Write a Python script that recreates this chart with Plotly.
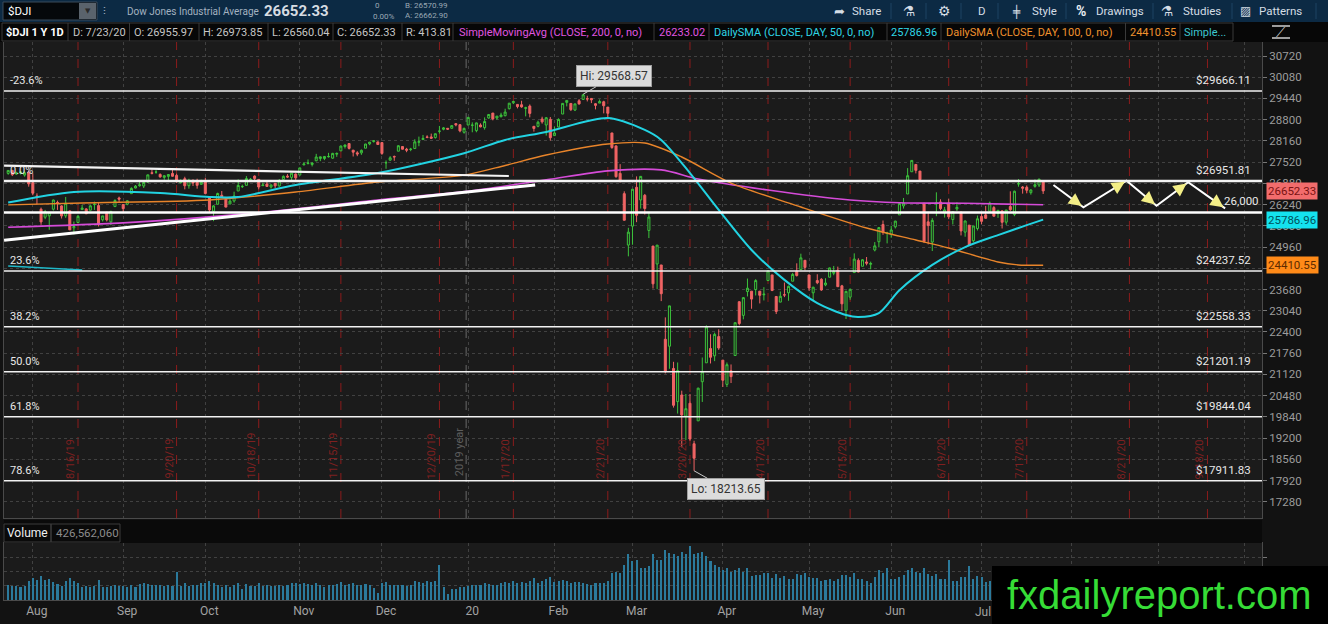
import plotly.graph_objects as go
import pandas as pd

W, H = 1328, 624
FONT = "Roboto, 'Open Sans', 'DejaVu Sans', sans-serif"
SYM = "'DejaVu Sans', sans-serif"

# ---------------- calendar (trading sessions) ----------------
holidays = ["2019-09-02", "2019-11-28", "2019-12-25", "2020-01-01", "2020-01-20",
            "2020-02-17", "2020-04-10", "2020-05-25", "2020-07-03", "2020-09-07"]
sessions = [d for d in pd.bdate_range("2019-07-24", "2020-10-02")
            if d.strftime("%Y-%m-%d") not in holidays]


def sidx(day):
    return sessions.index(pd.Timestamp(day))


# ---------------- daily OHLC ($DJI, 7/24/19 - 7/23/20) ----------------
opens = [
    27180, 27270, 27160, 27190, 27130, 27210,
    26900, 26500, 26100, 25860, 25900, 26100, 26300, 26200, 25900, 26050, 25540, 25700, 26090, 26110, 26070, 26240, 26210, 25780, 26010, 25720, 26180, 26440,
    26240, 26250, 26570, 26740, 26810, 26800, 26920, 27200, 27220, 27150, 27060, 27090, 27180, 27120, 26900, 27020, 26810, 26970, 26920, 26850,
    26960, 26480, 26040, 26250, 26520, 26400, 26260, 26350, 26650, 26780, 26820, 26990, 27100, 27000, 26810, 26860, 26770, 26880, 26800, 27000, 27100, 27060, 27160,
    27130, 27440, 27480, 27450, 27560, 27630, 27630, 27680, 27640, 27760, 27860, 27990, 28080, 27880, 27800, 27800, 27940, 28070, 28140, 28130,
    28110, 27500, 27580, 27690, 27850, 27990, 27910, 27900, 27930, 28120, 28200, 28280, 28280, 28260, 28450, 28510, 28540, 28540, 28680, 28650, 28420,
    28640, 28630, 28470, 28640, 28560, 28850, 29000, 28850, 28890, 28920, 29130, 29310, 29260, 29250, 29140, 29210, 28600, 28600, 28820, 28640, 28810,
    28320, 28580, 28970, 29320, 29290, 29090, 29370, 29410, 29430, 29440, 29280, 29300, 29340, 29180, 28400, 28010, 27180, 26570, 25020,
    25590, 26760, 26380, 26520, 25460, 24990, 24450, 24420, 22180, 21970, 21300, 20300, 20500, 19860, 20250, 19030, 19720, 20900, 21470, 21900, 21680, 22260,
    21550, 20820, 21230, 21690, 23310, 22900, 23620, 23630, 23680, 23630, 23520, 23950, 24120, 23470, 23300, 23520, 23580, 23930, 24230, 24280, 24560,
    24120, 23580, 23950, 23990, 23820, 24050, 24170, 24260, 23790, 23050, 23450, 24190, 24560, 24380, 24510, 24440, 24870, 25120, 25640, 25370,
    25340, 25570, 25930, 26200, 26560, 27230, 27450, 27250, 26280, 25720, 25110, 26260, 26320, 25990, 26290, 25790, 26110, 26000, 25410, 25620, 25150, 25520,
    25880, 25930, 26040, 26150, 25970, 26050, 25710, 26180, 25940, 26860, 26770, 26760, 26600, 26790, 26830, 26955.97,
]
highs = [
    27275, 27285, 27230, 27245, 27240, 27270,
    27180, 26580, 26150, 26080, 26010, 26390, 26360, 26220, 26470, 26060, 25730, 25930, 26230, 26130, 26230, 26330, 26310, 25900, 26020, 26050, 26400, 26480,
    26250, 26370, 26760, 26830, 26920, 26920, 27140, 27300, 27280, 27180, 27120, 27150, 27300, 27170, 27000, 27080, 27020, 27000, 27020, 26990,
    27050, 26490, 26220, 26600, 26650, 26440, 26400, 26630, 27000, 26840, 27100, 27040, 27120, 27000, 26900, 26950, 26840, 26890, 27010, 27120, 27160, 27190, 27180,
    27350, 27520, 27600, 27510, 27770, 27690, 27700, 27800, 27800, 27810, 28020, 28050, 28090, 27890, 27850, 27900, 28070, 28130, 28170, 28140,
    28110, 27570, 27700, 27720, 28030, 28000, 27950, 27950, 28210, 28290, 28340, 28330, 28380, 28380, 28610, 28580, 28540, 28630, 28700, 28650, 28560,
    28870, 28720, 28710, 28690, 28870, 28960, 29000, 28910, 29010, 29130, 29300, 29370, 29270, 29370, 29190, 29260, 28600, 28770, 28890, 28880, 28880,
    28590, 28840, 29300, 29380, 29290, 29280, 29420, 29568.57, 29520, 29450, 29300, 29410, 29370, 29180, 28400, 28020, 27460, 26640, 25540,
    26710, 27090, 27100, 26560, 25990, 24990, 25020, 24420, 22840, 23190, 21500, 21480, 20630, 20530, 20530, 19120, 20720, 21630, 22600, 22330, 22380, 22480,
    21550, 21480, 21420, 22680, 23330, 23450, 24010, 23630, 23990, 23630, 23750, 24260, 24120, 23470, 23620, 23890, 23800, 24180, 24470, 24760, 24560,
    24120, 23760, 24140, 24020, 24020, 24340, 24390, 24370, 23820, 23640, 23710, 24770, 24620, 24600, 24660, 24520, 25110, 25550, 25760, 25420,
    25600, 25750, 26300, 26440, 27340, 27580, 27450, 27250, 26280, 26020, 25830, 26610, 26400, 26170, 26420, 26040, 26310, 26040, 25760, 25620, 25600, 25910,
    25990, 26200, 26330, 26200, 26080, 26070, 26080, 26640, 26660, 27010, 26800, 26810, 26700, 27000, 27020, 26973.85,
]
lows = [
    27140, 27100, 27140, 27150, 27080, 26780,
    26520, 26250, 25630, 25800, 25480, 26060, 26080, 25820, 25840, 25470, 25340, 25690, 26080, 25960, 26070, 26080, 25580, 25730, 25730, 25620, 26180, 26290,
    25980, 26220, 26570, 26730, 26780, 26740, 26900, 27150, 27170, 27050, 26990, 26950, 27080, 26900, 26880, 26700, 26720, 26800, 26720, 26850,
    26560, 25990, 25740, 26250, 26440, 26160, 26250, 26300, 26650, 26740, 26820, 26940, 26950, 26700, 26800, 26780, 26720, 26730, 26780, 27000, 27040, 26980, 26950,
    27130, 27420, 27450, 27390, 27550, 27550, 27580, 27660, 27620, 27680, 27860, 27930, 27900, 27690, 27700, 27740, 27940, 28030, 28110, 28040,
    27740, 27320, 27560, 27560, 27850, 27900, 27820, 27850, 27920, 28000, 28190, 28240, 28230, 28230, 28380, 28480, 28490, 28530, 28600, 28420, 28380,
    28630, 28420, 28420, 28570, 28500, 28830, 28780, 28800, 28870, 28900, 29110, 29270, 29140, 29160, 28900, 28870, 28440, 28570, 28680, 28320, 28170,
    28320, 28580, 28970, 29200, 29060, 29060, 29250, 29400, 29350, 29300, 29110, 29300, 28990, 28870, 27920, 27050, 26910, 25760, 24680,
    25030, 25710, 26120, 25940, 25230, 23710, 23690, 23330, 21150, 21290, 20120, 19940, 18920, 19140, 19120, 18213.65, 19720, 20290, 21470, 21450, 21520, 21860,
    20740, 20740, 20860, 21690, 22600, 22780, 23470, 23100, 23500, 23260, 23350, 23940, 23630, 22940, 23300, 23450, 23340, 23930, 24070, 24280, 24260,
    23640, 23360, 23840, 23640, 23780, 24050, 24110, 23760, 23030, 22790, 23370, 24190, 24200, 24380, 24410, 24290, 24830, 24950, 25330, 25070,
    25240, 25520, 25930, 26120, 26560, 27230, 27180, 26940, 25080, 25040, 24840, 25890, 26070, 25850, 25800, 25640, 26050, 25310, 25270, 24990, 25100, 25460,
    25650, 25810, 26040, 25890, 25840, 25520, 25630, 26050, 25890, 26780, 26570, 26590, 26540, 26750, 26770, 26560.04,
]
closes = [
    27270, 27141, 27192, 27221, 27198, 26864,
    26583, 26485, 25718, 26030, 26007, 26378, 26287, 25898, 26280, 25479, 25579, 25886, 26136, 25962, 26203, 26252, 25629, 25899, 25778, 26036, 26362, 26403,
    26118, 26355, 26728, 26797, 26836, 26909, 27137, 27182, 27220, 27077, 27111, 27147, 27095, 26935, 26950, 26808, 26971, 26891, 26820, 26917,
    26573, 26079, 26201, 26574, 26478, 26164, 26346, 26497, 26817, 26787, 27025, 27002, 27026, 26770, 26828, 26788, 26834, 26806, 26958, 27091, 27071, 27187, 27046,
    27347, 27462, 27493, 27493, 27675, 27681, 27691, 27691, 27784, 27782, 28005, 28036, 27934, 27821, 27766, 27876, 28066, 28122, 28164, 28051,
    27783, 27503, 27650, 27678, 28015, 27910, 27882, 27911, 28132, 28135, 28236, 28267, 28239, 28377, 28455, 28552, 28515, 28621, 28645, 28462, 28538,
    28869, 28635, 28703, 28584, 28745, 28957, 28824, 28907, 28940, 29030, 29298, 29348, 29196, 29186, 29160, 28990, 28536, 28723, 28734, 28859, 28256,
    28400, 28808, 29291, 29380, 29103, 29277, 29276, 29551, 29423, 29398, 29232, 29348, 29220, 28992, 27961, 27081, 26958, 25767, 25409,
    26703, 25917, 27091, 26121, 25865, 23851, 25018, 23553, 21201, 23186, 20189, 21237, 19899, 20087, 19174, 18592, 20705, 21201, 22552, 21637, 22327, 21917,
    20944, 21413, 21053, 22680, 22654, 23434, 23719, 23391, 23950, 23504, 23538, 24242, 23650, 23019, 23476, 23515, 23775, 24134, 24102, 24634, 24346,
    23724, 23750, 23883, 23665, 23876, 24331, 24222, 23765, 23248, 23625, 23685, 24597, 24207, 24576, 24474, 24465, 24995, 25548, 25401, 25383,
    25475, 25743, 26270, 26282, 27111, 27572, 27272, 26990, 25128, 25606, 25763, 26290, 26120, 26080, 25871, 26025, 26156, 25446, 25746, 25016, 25596, 25813,
    25735, 25827, 26287, 25890, 26067, 25706, 26075, 26086, 26643, 26870, 26735, 26672, 26681, 26840, 27006, 26652.33,
]
volumes_m = [
    260, 250, 240, 230, 250, 330,
    380, 350, 420, 350, 360, 310, 280, 240, 330, 390, 340, 290, 230, 240, 230, 250, 350, 230, 230, 250, 260, 240,
    250, 230, 260, 230, 280, 290, 280, 270, 260, 260, 240, 260, 250, 500, 240, 290, 250, 260, 260, 290,
    300, 330, 300, 260, 230, 270, 230, 260, 300, 190, 280, 250, 240, 300, 250, 260, 240, 250, 260, 250, 260, 290, 300,
    280, 290, 280, 270, 300, 270, 230, 260, 270, 280, 320, 260, 280, 290, 260, 270, 280, 270, 210, 130,
    290, 310, 270, 260, 260, 260, 240, 260, 330, 320, 290, 330, 320, 330, 620, 230, 110, 190, 200, 220, 230,
    250, 270, 260, 270, 300, 280, 260, 270, 300, 320, 300, 330, 300, 310, 300, 330, 380, 300, 330, 360, 400,
    320, 330, 350, 330, 300, 310, 320, 300, 280, 270, 300, 290, 290, 340, 480, 500, 480, 620, 800,
    680, 700, 560, 560, 600, 800, 700, 700, 880, 820, 800, 780, 850, 800, 950, 800, 820, 850, 780, 680, 610, 580,
    520, 560, 490, 520, 560, 500, 560, 420, 440, 430, 470, 480, 390, 450, 380, 420, 370, 370, 450, 440, 480,
    400, 380, 380, 340, 350, 370, 330, 360, 430, 440, 410, 480, 360, 370, 330, 290, 400, 520, 470, 560,
    360, 360, 400, 430, 530, 560, 500, 480, 560, 460, 420, 460, 370, 360, 700, 340, 330, 410, 410, 600, 360, 420,
    400, 310, 340, 340, 330, 360, 330, 390, 380, 400, 340, 360, 380, 430, 370, 426.56,
]
bar_idx = list(range(len(closes)))

# ---------------- studies ----------------
sma50_x = [0, 16, 37, 49, 56, 70, 90, 111, 121, 131, 146, 155, 159, 166, 173, 181, 189, 197, 204, 207, 212, 217, 225, 233, 241, 248, 252]
sma50_y = [26300, 26620, 26590, 26470, 26470, 26830, 27190, 27790, 28190, 28430, 28850, 28490, 28190, 27190, 26080, 24870, 23970, 23270,
           22910, 22850, 22970, 23660, 24420, 24960, 25320, 25620, 25786.96]
sma100_x = [0, 18, 49, 70, 90, 111, 121, 131, 146, 155, 164, 176, 193, 209, 221, 229, 241, 246, 252]
sma100_y = [26230, 26290, 26380, 26620, 26920, 27130, 27420, 27735, 28067, 28097, 27675, 26890, 26168, 25534, 25172, 24930, 24510, 24420, 24410.55]
sma200_x = [0, 29, 59, 90, 111, 131, 146, 159, 168, 185, 205, 217, 233, 252]
sma200_y = [25555, 25695, 25975, 26380, 26630, 26985, 27256, 27286, 27012, 26680, 26378, 26297, 26279, 26233.02]
simple_x = [0, 18]
simple_y = [24390, 24270]

# ---------------- drawings ----------------
fib_levels = [29666.11, 26951.81, 24237.52, 22558.33, 21201.19, 19844.04, 17911.83]
fib_pct = ["-23.6%", "0.0%", "23.6%", "38.2%", "50.0%", "61.8%", "78.6%"]
support_level = 26000
trend_upper_x = [-1, 121.9]
trend_upper_y = [27413, 27102]
trend_lower_x = [-1, 128.3]
trend_lower_y = [25163, 26831]
proj_x = [254.5, 261.8, 272.3, 279.6, 287.3, 296.3]
proj_y = [26830, 26158, 26960, 26207, 26912, 26128]
expiry_dates = ["2019-08-16", "2019-09-20", "2019-10-18", "2019-11-15", "2019-12-20", "2020-01-17", "2020-02-21",
                "2020-03-20", "2020-04-17", "2020-05-15", "2020-06-19", "2020-07-17", "2020-08-21", "2020-09-18"]
month_labels = ["Aug", "Sep", "Oct", "Nov", "Dec", "20", "Feb", "Mar", "Apr", "May", "Jun", "Jul", "", "", ""]
price_ticks = list(range(17280, 30721, 640))

# ---------------- geometry ----------------
X_RANGE = [-1.02, 305.28]
Y_RANGE = [16791, 31142]
XS = 1258 / (X_RANGE[1] - X_RANGE[0])
YS = 476 / (Y_RANGE[1] - Y_RANGE[0])


def PX(x):
    return x / W


def PY(y):
    return 1 - y / H


month_start_idx = [i for i in range(1, len(sessions)) if sessions[i].month != sessions[i - 1].month]
# the last visible month label sits at the watermark edge; it is drawn as an annotation instead
axis_month_text = [t if t != "Jul" else "" for t in month_labels]
jul_idx = month_start_idx[month_labels.index("Jul")]

BG = "#1b1b1b"
GREEN = "#3cc43c"
RED = "#f06464"

fig = go.Figure()
fig.add_trace(go.Candlestick(
    x=bar_idx, open=opens, high=highs, low=lows, close=closes,
    increasing=dict(line=dict(color=GREEN, width=1), fillcolor=BG),
    decreasing=dict(line=dict(color=RED, width=1), fillcolor=RED),
    whiskerwidth=0, xaxis="x", yaxis="y", hoverinfo="skip", showlegend=False))
fig.add_trace(go.Scatter(x=simple_x, y=simple_y, mode="lines", line=dict(color="#1fb8c8", width=1.5),
                         hoverinfo="skip", showlegend=False))
fig.add_trace(go.Scatter(x=sma200_x, y=sma200_y, mode="lines", line=dict(color="#d54bd8", width=1.6, shape="spline", smoothing=0.8),
                         hoverinfo="skip", showlegend=False))
fig.add_trace(go.Scatter(x=sma100_x, y=sma100_y, mode="lines", line=dict(color="#e8842a", width=1.4, shape="spline", smoothing=0.8),
                         hoverinfo="skip", showlegend=False))
fig.add_trace(go.Scatter(x=sma50_x, y=sma50_y, mode="lines", line=dict(color="#22d3e2", width=2, shape="spline", smoothing=0.8),
                         hoverinfo="skip", showlegend=False))
fig.add_trace(go.Scatter(x=proj_x, y=proj_y, mode="lines", line=dict(color="#ffffff", width=2),
                         hoverinfo="skip", showlegend=False))
fig.add_trace(go.Bar(x=bar_idx, y=volumes_m, width=0.5, marker=dict(color="#2b7a9c", line=dict(width=0)),
                     xaxis="x2", yaxis="y2", hoverinfo="skip", showlegend=False))

shapes = []
ann = []


def rect(x0, y0, x1, y1, fill, line=None):
    shapes.append(dict(type="rect", xref="paper", yref="paper", x0=PX(x0), x1=PX(x1), y0=PY(y1), y1=PY(y0),
                       fillcolor=fill, line=dict(color=line or fill, width=1 if line else 0), layer="above"))


def pline(x0, y0, x1, y1, color, width=1):
    shapes.append(dict(type="line", xref="paper", yref="paper", x0=PX(x0), x1=PX(x1), y0=PY(y0), y1=PY(y1),
                       line=dict(color=color, width=width), layer="above"))


def label(x, y, text, color="#c8c8c8", size=11, bold=False, anchor="left", family=FONT):
    ann.append(dict(x=PX(x), y=PY(y), xref="paper", yref="paper", text=f"<b>{text}</b>" if bold else text,
                    showarrow=False, xanchor=anchor, yanchor="middle", font=dict(color=color, size=size, family=family)))


# expiration markers and year separator
for d in expiry_dates:
    i = sidx(d)
    shapes.append(dict(type="line", xref="x", yref="paper", x0=i, x1=i, y0=PY(518), y1=PY(42),
                       line=dict(color="#8c1c1c", width=1, dash="dash"), layer="below"))
    ts = pd.Timestamp(d)
    ann.append(dict(x=i, y=PY(481), xref="x", yref="paper", text=f"{ts.month}/{ts.day}/{ts.strftime('%y')}",
                    textangle=-90, xshift=-8, showarrow=False, font=dict(color="#7e2020", size=11, family=FONT)))
year_x = sidx("2020-01-02") - 0.5
shapes.append(dict(type="line", xref="x", yref="paper", x0=year_x, x1=year_x, y0=PY(518), y1=PY(42),
                   line=dict(color="#6a6a6a", width=1, dash="dash"), layer="below"))
ann.append(dict(x=year_x, y=PY(478), xref="x", yref="paper", text="2019 year", textangle=-90, xshift=-7,
                showarrow=False, font=dict(color="#5e5e5e", size=11, family=FONT)))

# fibonacci levels
for lv, pct in zip(fib_levels, fib_pct):
    w = 2.5 if pct == "0.0%" else 1.4
    shapes.append(dict(type="line", xref="paper", yref="y", x0=PX(4), x1=PX(1262), y0=lv, y1=lv,
                       line=dict(color="#f2f2f2", width=w), layer="above"))
    ann.append(dict(x=PX(8), y=lv, xref="paper", yref="y", text=pct, showarrow=False, xanchor="left",
                    yanchor="bottom", yshift=2, font=dict(color="#e8e8e8", size=11, family=FONT)))
    ann.append(dict(x=PX(1253), y=lv, xref="paper", yref="y", text=f"${lv:.2f}", showarrow=False, xanchor="right",
                    yanchor="bottom", yshift=2, font=dict(color="#e8e8e8", size=11.5, family=FONT)))
shapes.append(dict(type="line", xref="paper", yref="y", x0=PX(4), x1=PX(1262), y0=support_level, y1=support_level,
                   line=dict(color="#ffffff", width=2.6), layer="above"))
ann.append(dict(x=PX(1261), y=support_level, xref="paper", yref="y", text=f"{support_level:,}", showarrow=False,
                xanchor="right", yanchor="bottom", yshift=3, font=dict(color="#e8e8e8", size=11.5, family=FONT)))

# trendlines
shapes.append(dict(type="line", xref="x", yref="y", x0=trend_upper_x[0], x1=trend_upper_x[1],
                   y0=trend_upper_y[0], y1=trend_upper_y[1], line=dict(color="#f4f4f4", width=2.2), layer="above"))
shapes.append(dict(type="line", xref="x", yref="y", x0=trend_lower_x[0], x1=trend_lower_x[1],
                   y0=trend_lower_y[0], y1=trend_lower_y[1], line=dict(color="#ffffff", width=3), layer="above"))

# projection arrowheads
for k in range(1, len(proj_x)):
    dx = (proj_x[k] - proj_x[k - 1]) * XS
    dy = -(proj_y[k] - proj_y[k - 1]) * YS
    n = (dx * dx + dy * dy) ** 0.5
    ann.append(dict(x=proj_x[k], y=proj_y[k], xref="x", yref="y", ax=-15 * dx / n, ay=-15 * dy / n,
                    axref="pixel", ayref="pixel", text="", showarrow=True, arrowhead=2, arrowsize=1.3,
                    arrowwidth=2, arrowcolor="#f3ee86", standoff=2))

# Hi / Lo callouts
ann.append(dict(x=sidx("2020-02-12"), y=29568.57, xref="x", yref="y", text="Hi: 29568.57", ax=31, ay=-18,
                showarrow=True, arrowhead=0, arrowwidth=1, arrowcolor="#c8c8c8", bgcolor="#dcdcdc",
                bordercolor="#a0a0a0", borderpad=3, font=dict(color="#333333", size=12, family=FONT)))
ann.append(dict(x=sidx("2020-03-23"), y=18213.65, xref="x", yref="y", text="Lo: 18213.65", ax=32, ay=18,
                showarrow=True, arrowhead=0, arrowwidth=1, arrowcolor="#c8c8c8", bgcolor="#dcdcdc",
                bordercolor="#a0a0a0", borderpad=3, font=dict(color="#333333", size=12, family=FONT)))

# price badges on right axis
for val, bg, fg in [(closes[-1], "#f26c6c", "#7a1212"), (sma50_y[-1], "#14e2ee", "#00525c"),
                    (sma100_y[-1], "#ff8a18", "#5c2a00")]:
    ann.append(dict(x=PX(1266), y=val, xref="paper", yref="y", text=f"{val:.2f}", showarrow=False,
                    xanchor="left", yanchor="middle", bgcolor=bg, borderpad=1,
                    font=dict(color=fg, size=11.5, family=FONT)))

# Jul month label (kept visible just left of the watermark)
ann.append(dict(x=jul_idx, y=PY(612), xref="x", yref="paper", text="Jul", showarrow=False, xshift=1,
                xanchor="center", yanchor="middle", font=dict(size=12, color="#a2a2a2", family=FONT)))

# ---------------- top toolbar ----------------
rect(0, 0, W, 22, "#0c2a44")
rect(3, 2, 97, 20, "#05080b", "#3b4b5a")
rect(79, 3, 96, 19, "#5a636c")
label(6, 11, "$DJI", "#ffffff", 11.5)
label(87.5, 11, "▼", "#2a2a2a", 7, anchor="center", family=SYM)
label(101, 11, "⫶", "#9fb0c0", 11, family=SYM)
label(125, 11, "Dow Jones Industrial Average", "#a3b2c0", 10)
label(262, 11, "26652.33", "#d6dce2", 15, bold=True)
label(373, 6, "0", "#9aa8b4", 8)
label(371, 16, "0.00%", "#9aa8b4", 8)
label(403, 6, "B: 26570.99", "#9aa8b4", 8)
label(403, 15.5, "A: 26662.90", "#9aa8b4", 8)
for sx in [891, 926, 961, 998, 1066, 1153, 1232, 1316]:
    pline(sx, 3, sx, 19, "#1d4262")
label(832, 11, "➦", "#d5dde5", 13, family=SYM)
label(850, 11, "Share", "#d5dde5", 11.5)
label(901, 11, "⚗", "#d5dde5", 14, family=SYM)
label(936, 11, "⚙", "#d5dde5", 14, family=SYM)
label(976, 11, "D", "#d5dde5", 11.5)
label(1010, 11, "╪", "#d5dde5", 12, family=SYM)
label(1030, 11, "Style", "#d5dde5", 11.5)
label(1074, 11, "%", "#e8edf2", 14, bold=True)
label(1094, 11, "Drawings", "#d5dde5", 11.5)
label(1159, 11, "⚗", "#d5dde5", 14, family=SYM)
label(1181, 11, "Studies", "#d5dde5", 11.5)
label(1238, 11, "▨", "#d5dde5", 12, family=SYM)
label(1257, 11, "Patterns", "#d5dde5", 11.5)

# ---------------- study header row ----------------
rect(0, 22, W, 42, "#070707")
rect(2, 23, 1233, 41, "rgba(0,0,0,0)", "#3a3a3a")
for sx in [68, 129.5, 199, 268, 333, 402, 453, 654, 709, 887, 941, 1125.5, 1180]:
    pline(sx, 23, sx, 41, "#3a3a3a")
label(4, 32, "$DJI 1 Y 1D", "#ffffff", 11, bold=True)
label(71, 32, "D: 7/23/20", "#c6c6c6", 11)
label(132, 32, "O: 26955.97", "#c6c6c6", 11)
label(201, 32, "H: 26973.85", "#c6c6c6", 11)
label(270, 32, "L: 26560.04", "#c6c6c6", 11)
label(335, 32, "C: 26652.33", "#c6c6c6", 11)
label(404, 32, "R: 413.81", "#c6c6c6", 11)
label(457, 32, "SimpleMovingAvg (CLOSE, 200, 0, no)", "#e055e0", 11)
label(657, 32, "26233.02", "#e055e0", 11)
label(712, 32, "DailySMA (CLOSE, DAY, 50, 0, no)", "#2fd6e6", 11)
label(889, 32, "25786.96", "#2fd6e6", 11)
label(944, 32, "DailySMA (CLOSE, DAY, 100, 0, no)", "#f0922e", 11)
label(1128, 32, "24410.55", "#f0922e", 11)
label(1182, 32, "Simple...", "#3cc6d0", 11)
label(1281, 32, "⟋", "#d0d0d0", 13, anchor="center", family=SYM)
pline(1272, 26, 1290, 26, "#d0d0d0", 1.5)
pline(1272, 38, 1290, 38, "#d0d0d0", 1.5)

# ---------------- volume header ----------------
rect(4, 520, 1262, 543, "#0a0a0a")
rect(4, 524, 51, 542, "rgba(0,0,0,0)", "#3a3a3a")
rect(51, 524, 120, 542, "rgba(0,0,0,0)", "#3a3a3a")
label(5, 533, "Volume", "#f0f0f0", 12)
label(54, 533, "426,562,060", "#8c8c8c", 11.5)

# ---------------- watermark ----------------
rect(992, 566, W, H, "#000000")
label(1159, 595, "fxdailyreport.com", "#36dc36", 40, anchor="center",
      family="'Liberation Sans', Arial, sans-serif")

grid = dict(showgrid=True, griddash="dot", gridcolor="#414141", gridwidth=1, zeroline=False)
frame = dict(showline=True, mirror=True, linecolor="#4a4a4a", linewidth=1)

fig.update_layout(
    width=W, height=H, autosize=False,
    margin=dict(l=0, r=0, t=0, b=0, pad=0),
    paper_bgcolor="#121212", plot_bgcolor=BG,
    showlegend=False, bargap=0, hovermode=False,
    font=dict(family=FONT, color="#a0a0a0"),
    xaxis=dict(domain=[PX(4), PX(1262)], range=X_RANGE, anchor="y", tickvals=month_start_idx,
               showticklabels=False, ticks="", rangeslider=dict(visible=False), **grid, **frame),
    yaxis=dict(domain=[PY(518), PY(42)], range=Y_RANGE, anchor="x", side="right", tickvals=price_ticks,
               tickformat="d", ticks="outside", ticklen=4, tickcolor="#777777",
               tickfont=dict(size=11.5, color="#9c9c9c", family=FONT), **grid, **frame),
    xaxis2=dict(domain=[PX(4), PX(1262)], matches="x", anchor="y2", tickvals=month_start_idx,
                ticktext=axis_month_text, ticklabelshift=4, ticks="",
                tickfont=dict(size=12, color="#a2a2a2", family=FONT), **grid, **frame),
    yaxis2=dict(domain=[PY(600), PY(543)], range=[0, 1000], anchor="x2", side="right",
                tickvals=[250, 500, 750], showticklabels=False, ticks="outside", ticklen=4,
                tickcolor="#777777", **grid, **frame),
    shapes=shapes, annotations=ann,
)

fig.write_html("out.html", config={"displayModeBar": False, "staticPlot": True},
               post_script="document.body.style.margin='0px';document.body.style.padding='0px';")
